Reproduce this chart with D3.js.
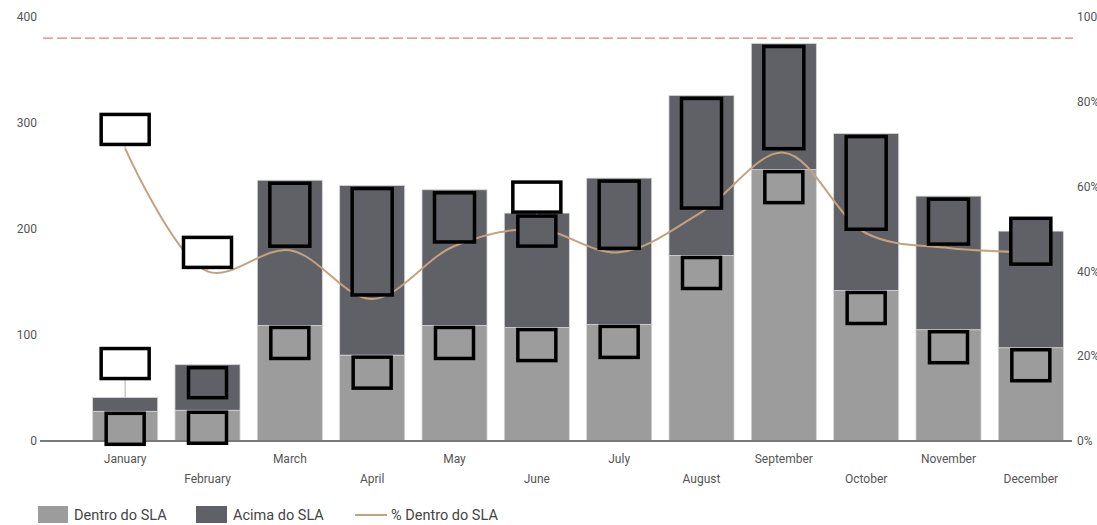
<!DOCTYPE html>
<html>
<head>
<meta charset="utf-8">
<script src="https://cdn.jsdelivr.net/npm/d3@7"></script>
<style>
  html, body { margin: 0; padding: 0; background: #ffffff; }
  svg { display: block; }
</style>
</head>
<body>
<svg id="chart" width="1097" height="525"></svg>
<script>
// ---- data ----
const months = ["January","February","March","April","May","June","July","August","September","October","November","December"];
const dentroSLA = [28, 29, 109, 81, 109, 107, 110, 175, 256, 142, 105, 88];
const acimaSLA  = [13, 43, 137, 160, 128, 108, 138, 151, 119, 148, 126, 110];
const pctDentroSLA = [0.69, 0.40, 0.45, 0.335, 0.46, 0.50, 0.445, 0.54, 0.68, 0.49, 0.455, 0.445];
const slaTarget = 0.95;
const leftTicks = [0, 100, 200, 300, 400];
const rightTicks = [0, 0.2, 0.4, 0.6, 0.8, 1.0];
const legendLabels = ["Dentro do SLA", "Acima do SLA", "% Dentro do SLA"];

// ---- styles ----
const cLight = "#9c9c9c", cDark = "#5f6166", cLine = "#c4a27f", cTarget = "#ec7676";
const font = "Roboto, 'Liberation Sans', sans-serif";

const svg = d3.select("#chart");

const x = d3.scaleBand().domain(months).range([84, 1072]).paddingInner(0.21).paddingOuter(0.105);
const y = d3.scaleLinear().domain([0, 400]).range([441, 17]);
const y2 = d3.scaleLinear().domain([0, 1]).range([441, 17]);

const rows = months.map((m, i) => ({ m, i, d: dentroSLA[i], a: acimaSLA[i], t: dentroSLA[i] + acimaSLA[i], p: pctDentroSLA[i] }));

// left axis labels
svg.append("g").selectAll("text").data(leftTicks).join("text")
  .attr("x", 37).attr("y", d => y(d)).attr("dy", "0.35em")
  .attr("text-anchor", "end").attr("font-family", font).attr("font-size", 12).attr("fill", "#555")
  .text(d => d);

// right axis labels
svg.append("g").selectAll("text").data(rightTicks).join("text")
  .attr("x", 1077).attr("y", d => y2(d)).attr("dy", "0.35em")
  .attr("text-anchor", "start").attr("font-family", font).attr("font-size", 12).attr("fill", "#555")
  .text(d => d3.format(".0%")(d));

// target line
svg.append("line")
  .attr("x1", 43).attr("x2", 1073).attr("y1", y2(slaTarget)).attr("y2", y2(slaTarget))
  .attr("stroke", cTarget).attr("stroke-width", 1.3).attr("stroke-dasharray", "10,4");

// bars
const bars = svg.append("g");
bars.selectAll("rect.d").data(rows).join("rect").attr("class", "d")
  .attr("x", r => x(r.m)).attr("width", x.bandwidth())
  .attr("y", r => y(r.d)).attr("height", r => y(0) - y(r.d))
  .attr("fill", cLight).attr("stroke", "#d6d6d6").attr("stroke-width", 0.8);
bars.selectAll("rect.a").data(rows).join("rect").attr("class", "a")
  .attr("x", r => x(r.m)).attr("width", x.bandwidth())
  .attr("y", r => y(r.t)).attr("height", r => y(r.d) - y(r.t))
  .attr("fill", cDark).attr("stroke", "#d6d6d6").attr("stroke-width", 0.8);

// baseline
svg.append("line").attr("x1", 40).attr("x2", 1072).attr("y1", y(0)).attr("y2", y(0))
  .attr("stroke", "#7a7a7a").attr("stroke-width", 2);

// x labels (staggered)
svg.append("g").selectAll("text").data(rows).join("text")
  .attr("x", r => x(r.m) + x.bandwidth() / 2)
  .attr("y", r => r.i % 2 === 0 ? 459 : 479).attr("dy", "0.35em")
  .attr("text-anchor", "middle").attr("font-family", font).attr("font-size", 12).attr("fill", "#555")
  .text(r => r.m);

// % line
const cx = r => x(r.m) + x.bandwidth() / 2;
const line = d3.line().x(cx).y(r => y2(r.p)).curve(d3.curveCatmullRom.alpha(0.5));

// label boxes (data label placeholders)
const boxes = [], leaders = [];
rows.forEach(r => {
  const c = cx(r);
  // dentro label
  boxes.push({ x: c - 19, y: y(r.d) + 2, w: 38, h: 31, fill: cLight });
  // acima label
  const segH = y(r.d) - y(r.t);
  let ab = null;
  if (segH < 30) {
    boxes.push({ x: c - 24, y: y(r.t) - 49, w: 48, h: 30, fill: "#fff" });
    leaders.push({ x: c, y1: y(r.t) - 19, y2: y(r.t) });
  } else {
    ab = { x: c - 19, y: y(r.t) + 3, w: 38, h: 30, fill: cDark };
  }
  // pct label
  const py = y2(r.p);
  let pb = { x: c - 19, y: py - 34, w: 38, h: 30, fill: cDark };
  const above = Math.max(0, Math.min(pb.y + pb.h, y(r.t)) - pb.y);
  if (above > pb.h / 2) {
    const bottom = Math.min(pb.y + pb.h, y(r.t) - 1);
    pb = { x: c - 24, y: bottom - 30, w: 48, h: 30, fill: "#fff" };
    leaders.push({ x: c, y1: bottom, y2: py });
    boxes.push(pb);
    if (ab) boxes.push(ab);
  } else if (ab) {
    const top = Math.min(ab.y, pb.y), bot = Math.max(ab.y + ab.h, pb.y + pb.h);
    boxes.push({ x: c - 20, y: top, w: 40, h: bot - top, fill: cDark });
  } else {
    boxes.push(pb);
  }
});

svg.append("g").selectAll("line").data(leaders).join("line")
  .attr("x1", d => d.x).attr("x2", d => d.x).attr("y1", d => d.y1).attr("y2", d => d.y2)
  .attr("stroke", "#c8c8c8").attr("stroke-width", 1.5);

svg.append("path").datum(rows).attr("d", line)
  .attr("fill", "none").attr("stroke", cLine).attr("stroke-width", 2);

svg.append("g").selectAll("rect").data(boxes).join("rect")
  .attr("x", d => d.x).attr("y", d => d.y).attr("width", d => d.w).attr("height", d => d.h)
  .attr("fill", d => d.fill).attr("stroke", "#000").attr("stroke-width", 3.5);

// legend
const lg = svg.append("g").attr("font-family", font).attr("font-size", 14.5).attr("fill", "#444");
lg.append("rect").attr("x", 38).attr("y", 506).attr("width", 30).attr("height", 17).attr("fill", cLight);
lg.append("text").attr("x", 74).attr("y", 515).attr("dy", "0.35em").text(legendLabels[0]);
lg.append("rect").attr("x", 196).attr("y", 506).attr("width", 31).attr("height", 17).attr("fill", cDark);
lg.append("text").attr("x", 233).attr("y", 515).attr("dy", "0.35em").text(legendLabels[1]);
lg.append("line").attr("x1", 355).attr("x2", 387).attr("y1", 515).attr("y2", 515).attr("stroke", cLine).attr("stroke-width", 2);
lg.append("text").attr("x", 391).attr("y", 515).attr("dy", "0.35em").text(legendLabels[2]);
</script>
</body>
</html>
